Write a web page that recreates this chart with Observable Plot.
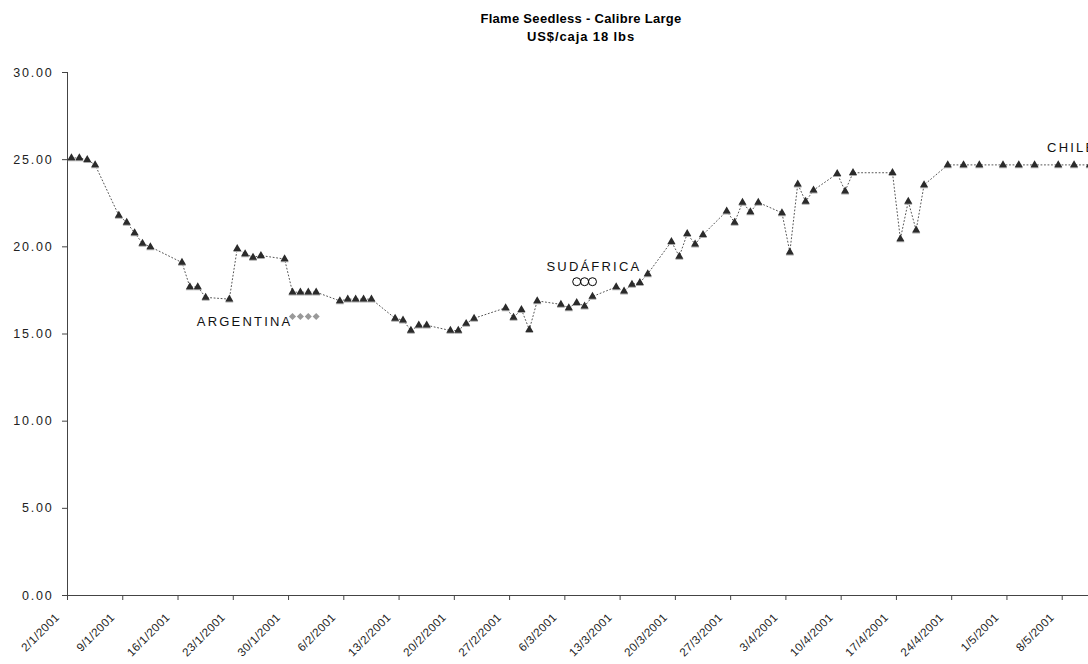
<!DOCTYPE html>
<html><head><meta charset="utf-8">
<script src="https://cdn.jsdelivr.net/npm/d3@7"></script>
<script src="https://cdn.jsdelivr.net/npm/@observablehq/plot@0.6"></script>
<style>
body{margin:0;background:#fff;overflow:hidden;font-family:"Liberation Sans",Arial,sans-serif;}
#title{box-sizing:border-box;width:1088px;height:46px;padding:10px 0 0 74px;text-align:center;font-weight:bold;font-size:13px;line-height:18px;color:#000;letter-spacing:0.3px;}
#title .l2{letter-spacing:0.9px;}
#chart svg{display:block;}
#chart [aria-label="y-axis tick label"] text{letter-spacing:1.8px;}
#chart [aria-label="x-axis tick label"] text{letter-spacing:0.4px;}
#chart [aria-label="text"] text{letter-spacing:2.2px;}
</style></head>
<body>
<div id="title">Flame Seedless - Calibre Large<br><span class="l2">US$/caja 18 lbs</span></div>
<div id="chart"></div>
<script>
// Chile series (triangles)
const chileDates = ["2/1","3/1","4/1","5/1","8/1","9/1","10/1","11/1","12/1","16/1","17/1","18/1","19/1","22/1","23/1","24/1","25/1","26/1","29/1","30/1","31/1","1/2","2/2","5/2","6/2","7/2","8/2","9/2","12/2","13/2","14/2","15/2","16/2","19/2","20/2","21/2","22/2","26/2","27/2","28/2","1/3","2/3","5/3","6/3","7/3","8/3","9/3","12/3","13/3","14/3","15/3","16/3","19/3","20/3","21/3","22/3","23/3","26/3","27/3","28/3","29/3","30/3","2/4","3/4","4/4","5/4","6/4","9/4","10/4","11/4","16/4","17/4","18/4","19/4","20/4","23/4","25/4","27/4","30/4","2/5","4/5","7/5","9/5","11/5"];
const chileValues = [25.1,25.1,25.0,24.7,21.8,21.4,20.8,20.2,20.0,19.1,17.7,17.7,17.1,17.0,19.9,19.6,19.4,19.5,19.3,17.4,17.4,17.4,17.4,16.9,17.0,17.0,17.0,17.0,15.9,15.8,15.2,15.5,15.5,15.2,15.2,15.6,15.9,16.5,15.95,16.4,15.25,16.9,16.7,16.5,16.8,16.6,17.15,17.7,17.45,17.85,17.95,18.45,20.3,19.45,20.75,20.15,20.7,22.05,21.4,22.55,22.0,22.55,21.95,19.7,23.6,22.6,23.25,24.2,23.2,24.25,24.25,20.45,22.6,20.95,23.55,24.7,24.7,24.7,24.7,24.7,24.7,24.7,24.7,24.7];
// Argentina series (diamonds)
const argentinaDates = ["30/1","31/1","1/2","2/2"];
const argentinaValues = [16.0,16.0,16.0,16.0];
// Sudáfrica series (open circles)
const sudafricaDates = ["7/3","8/3","9/3"];
const sudafricaValues = [18.0,18.0,18.0];
// Axis ticks
const xTickLabels = ["2/1/2001","9/1/2001","16/1/2001","23/1/2001","30/1/2001","6/2/2001","13/2/2001","20/2/2001","27/2/2001","6/3/2001","13/3/2001","20/3/2001","27/3/2001","3/4/2001","10/4/2001","17/4/2001","24/4/2001","1/5/2001","8/5/2001"];
const yTicks = [0,5,10,15,20,25,30];
const seriesLabels = ["ARGENTINA","SUDÁFRICA","CHILE"];

const DAY = 864e5;
const pt = (s) => { const [d,m] = s.split("/").map(Number); return new Date(Date.UTC(2001, m-1, d, 12)); };
const tickDate = (s) => { const [d,m,y] = s.split("/").map(Number); return new Date(Date.UTC(y, m-1, d)); };
const chile = chileDates.map((d,i)=>({date:pt(d), value:chileValues[i]}));
const argentina = argentinaDates.map((d,i)=>({date:pt(d), value:argentinaValues[i]}));
const sudafrica = sudafricaDates.map((d,i)=>({date:pt(d), value:sudafricaValues[i]}));
const xTicks = xTickLabels.map(tickDate);
const tickMap = new Map(xTicks.map((d,i)=>[+d, xTickLabels[i]]));
const start = new Date(Date.UTC(2001,0,2));
const end = new Date(+start + 129.33*DAY);

const labels = [
  {name: seriesLabels[0], date: new Date(Date.UTC(2001,0,30,12)), value: 15.72, anchor:"end"},
  {name: seriesLabels[1], date: new Date(Date.UTC(2001,2,3,16)), value: 18.87, anchor:"start"},
  {name: seriesLabels[2], date: new Date(Date.UTC(2001,4,6,2)), value: 25.7, anchor:"start"}
];

const chart = Plot.plot({
  width: 1088, height: 618,
  marginLeft: 67, marginRight: 0, marginTop: 26, marginBottom: 69,
  style: {fontFamily: '"Liberation Sans", Arial, sans-serif', fontSize: "12px", color: "#222", background: "#fff"},
  x: {type: "utc", domain: [start, end]},
  y: {domain: [0, 30]},
  marks: [
    Plot.axisY({ticks: yTicks, tickFormat: d => d.toFixed(2), tickSize: 5, tickPadding: 9, label: null, stroke: "#444", fontSize: 12.5}),
    Plot.axisX({ticks: xTicks, tickFormat: () => "", tickSize: 5, label: null, stroke: "#444"}),
    Plot.axisX({ticks: xTicks, tickFormat: d => tickMap.get(+d), tickRotate: -45, tickSize: 0, tickPadding: 11, dx: -10, dy: 9, label: null, fontSize: 11.6}),
    Plot.ruleY([0], {stroke: "#444"}),
    Plot.ruleX([start], {y1: 0, y2: 30, stroke: "#444"}),
    Plot.lineY(chile, {x: "date", y: "value", stroke: "#555", strokeWidth: 1, strokeDasharray: "1 2.5"}),
    Plot.dot(chile, {x: "date", y: "value", symbol: "triangle", r: 3, fill: "#aaa", dy: 1}),
    Plot.dot(chile, {x: "date", y: "value", symbol: "triangle", r: 3, fill: "#2b2b2b"}),
    Plot.dot(argentina, {x: "date", y: "value", symbol: "diamond2", r: 3.2, fill: "#999"}),
    Plot.dot(sudafrica, {x: "date", y: "value", symbol: "circle", r: 4, stroke: "#000", strokeWidth: 1, fill: "none"}),
    Plot.text(labels.filter(d=>d.anchor==="end"), {x: "date", y: "value", text: "name", textAnchor: "end", fontSize: 13, fill: "#111"}),
    Plot.text(labels.filter(d=>d.anchor==="start"), {x: "date", y: "value", text: "name", textAnchor: "start", fontSize: 13, fill: "#111"})
  ]
});
document.getElementById("chart").appendChild(chart);
</script>
</body></html>
